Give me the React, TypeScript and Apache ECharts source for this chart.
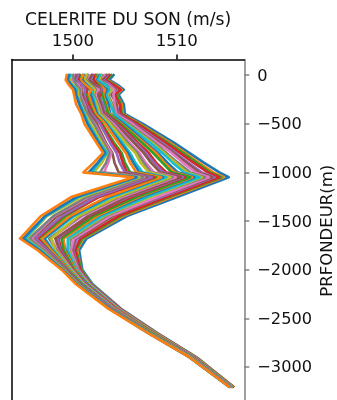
import React, { useEffect, useRef } from "react";
import * as echarts from "echarts";

// Depths (m) shared by every profile
const DEPTHS = [0, -50, -100, -150, -200, -300, -400, -500, -700, -800, -900, -1000, -1050, -1250, -1450, -1680, -1800, -2000, -2150, -2400, -2650, -2900, -3200];

// Sound-speed profiles (m/s), from the coldest to the warmest
const P00 = [1499.4, 1499.3, 1499.6, 1500.0, 1500.1, 1500.3, 1500.8, 1501.1, 1502.3, 1502.9, 1502.0, 1501.0, 1505.8, 1499.9, 1496.9, 1494.9, 1496.6, 1498.9, 1500.3, 1503.4, 1507.2, 1511.2, 1515.0];
const P01 = [1499.6, 1499.5, 1499.8, 1500.2, 1500.3, 1500.6, 1501.0, 1501.4, 1502.5, 1503.1, 1502.4, 1501.5, 1506.1, 1500.4, 1497.3, 1495.2, 1496.8, 1499.0, 1500.4, 1503.5, 1507.2, 1511.2, 1515.0];
const P02 = [1499.8, 1499.5, 1499.9, 1500.4, 1500.3, 1500.7, 1501.1, 1501.5, 1502.6, 1503.3, 1502.5, 1501.8, 1506.2, 1500.6, 1497.4, 1495.4, 1496.9, 1499.0, 1500.4, 1503.5, 1507.3, 1511.2, 1515.0];
const P03 = [1499.8, 1499.7, 1500.0, 1500.5, 1500.5, 1500.7, 1501.2, 1501.7, 1502.8, 1503.3, 1502.8, 1502.0, 1506.4, 1500.9, 1497.5, 1495.5, 1497.0, 1499.1, 1500.5, 1503.5, 1507.3, 1511.3, 1515.0];
const P04 = [1500.0, 1500.1, 1500.3, 1500.7, 1500.6, 1501.0, 1501.4, 1502.0, 1503.0, 1503.5, 1503.2, 1502.6, 1506.8, 1501.4, 1498.1, 1495.8, 1497.2, 1499.2, 1500.5, 1503.6, 1507.3, 1511.3, 1515.1];
const P05 = [1500.1, 1499.9, 1500.5, 1500.8, 1500.7, 1501.1, 1501.4, 1502.1, 1503.1, 1503.7, 1503.4, 1503.0, 1506.9, 1501.6, 1498.2, 1496.0, 1497.3, 1499.2, 1500.5, 1503.6, 1507.3, 1511.3, 1515.1];
const P06 = [1500.3, 1500.1, 1500.5, 1500.9, 1500.9, 1501.2, 1501.6, 1502.3, 1503.2, 1503.8, 1504.0, 1504.4, 1507.1, 1501.8, 1498.5, 1496.1, 1497.4, 1499.3, 1500.6, 1503.6, 1507.4, 1511.3, 1515.1];
const P07 = [1500.5, 1500.3, 1500.9, 1501.2, 1501.1, 1501.3, 1501.8, 1502.6, 1503.6, 1504.2, 1504.5, 1505.0, 1507.6, 1502.3, 1498.9, 1496.4, 1497.6, 1499.4, 1500.7, 1503.7, 1507.4, 1511.4, 1515.1];
const P08 = [1500.6, 1500.5, 1500.8, 1501.4, 1501.1, 1501.5, 1501.9, 1502.7, 1503.8, 1504.5, 1504.8, 1505.2, 1507.8, 1502.6, 1499.0, 1496.6, 1497.6, 1499.4, 1500.7, 1503.7, 1507.4, 1511.4, 1515.1];
const P09 = [1500.7, 1500.5, 1500.9, 1501.4, 1501.3, 1501.6, 1502.0, 1502.8, 1504.0, 1504.7, 1505.0, 1505.5, 1508.0, 1502.5, 1499.3, 1496.7, 1497.7, 1499.5, 1500.8, 1503.7, 1507.5, 1511.4, 1515.1];
const P10 = [1501.0, 1500.7, 1501.2, 1501.8, 1501.5, 1501.8, 1502.2, 1503.1, 1504.4, 1505.1, 1505.5, 1506.1, 1508.5, 1503.3, 1499.7, 1497.0, 1497.9, 1499.6, 1500.8, 1503.8, 1507.5, 1511.4, 1515.1];
const P11 = [1501.0, 1500.9, 1501.3, 1501.7, 1501.7, 1502.0, 1502.3, 1503.2, 1504.6, 1505.3, 1505.8, 1506.4, 1508.7, 1503.5, 1499.9, 1497.2, 1498.0, 1499.6, 1500.9, 1503.8, 1507.5, 1511.4, 1515.1];
const P12 = [1501.1, 1500.7, 1501.4, 1501.9, 1501.9, 1502.1, 1502.4, 1503.3, 1504.8, 1505.5, 1506.0, 1506.7, 1509.0, 1503.8, 1500.1, 1497.3, 1498.1, 1499.7, 1500.9, 1503.9, 1507.5, 1511.5, 1515.2];
const P13 = [1501.3, 1501.1, 1501.6, 1502.1, 1501.9, 1502.3, 1502.6, 1503.6, 1505.1, 1506.0, 1506.5, 1507.3, 1509.4, 1504.3, 1500.5, 1497.9, 1498.3, 1499.8, 1501.0, 1503.9, 1507.6, 1511.5, 1515.2];
const P14 = [1501.4, 1501.2, 1501.8, 1502.2, 1502.0, 1502.4, 1502.7, 1503.7, 1505.3, 1506.2, 1506.8, 1507.5, 1509.6, 1504.5, 1500.7, 1497.7, 1498.4, 1499.8, 1501.0, 1503.9, 1507.6, 1511.5, 1515.2];
const P15 = [1501.5, 1501.3, 1501.6, 1502.5, 1502.1, 1502.5, 1502.8, 1503.9, 1505.5, 1506.4, 1507.0, 1507.8, 1509.9, 1504.8, 1500.9, 1497.9, 1498.5, 1499.9, 1501.1, 1504.0, 1507.6, 1511.5, 1515.2];
const P16 = [1501.8, 1501.5, 1502.1, 1502.6, 1502.4, 1502.7, 1503.0, 1504.1, 1505.9, 1506.8, 1507.5, 1508.4, 1510.4, 1505.2, 1501.5, 1498.3, 1498.7, 1500.0, 1501.1, 1504.0, 1507.7, 1511.6, 1515.2];
const P17 = [1501.9, 1501.7, 1502.1, 1502.8, 1502.4, 1502.9, 1503.1, 1504.2, 1506.1, 1507.0, 1507.8, 1508.7, 1510.6, 1505.4, 1501.4, 1498.5, 1498.8, 1500.0, 1501.2, 1504.0, 1507.7, 1511.6, 1515.2];
const P18 = [1502.0, 1502.0, 1502.3, 1502.8, 1502.6, 1502.7, 1503.2, 1504.4, 1506.3, 1507.3, 1508.0, 1509.0, 1510.8, 1505.7, 1501.6, 1498.6, 1498.9, 1500.0, 1501.2, 1504.1, 1507.7, 1511.6, 1515.2];
const P19 = [1502.2, 1501.9, 1502.5, 1502.8, 1502.8, 1503.1, 1503.4, 1504.6, 1506.7, 1507.7, 1508.6, 1509.5, 1511.3, 1506.2, 1502.0, 1498.9, 1499.1, 1500.1, 1501.3, 1504.1, 1507.7, 1511.6, 1515.2];
const P20 = [1502.3, 1502.0, 1502.6, 1503.1, 1502.9, 1503.2, 1503.5, 1504.7, 1506.9, 1508.0, 1508.8, 1509.8, 1511.5, 1506.4, 1502.3, 1499.1, 1499.2, 1500.2, 1501.3, 1504.2, 1507.8, 1511.7, 1515.3];
const P21 = [1502.4, 1502.1, 1502.7, 1503.3, 1503.0, 1503.4, 1503.6, 1504.9, 1507.1, 1508.2, 1509.1, 1510.1, 1511.7, 1506.7, 1502.4, 1499.0, 1499.3, 1500.2, 1501.4, 1504.2, 1507.8, 1511.7, 1515.3];
const P22 = [1502.6, 1502.3, 1503.2, 1503.5, 1503.2, 1503.6, 1504.0, 1505.1, 1507.5, 1508.6, 1509.6, 1510.7, 1512.2, 1507.2, 1502.8, 1499.5, 1499.5, 1500.3, 1501.4, 1504.3, 1507.8, 1511.7, 1515.3];
const P23 = [1502.7, 1502.5, 1503.0, 1503.7, 1503.3, 1503.7, 1503.9, 1505.2, 1507.7, 1508.8, 1509.9, 1511.0, 1512.4, 1507.5, 1503.0, 1499.6, 1499.6, 1500.3, 1501.5, 1504.3, 1507.9, 1511.7, 1515.3];
const P24 = [1502.8, 1502.5, 1503.2, 1503.7, 1503.4, 1503.8, 1504.0, 1505.4, 1507.9, 1509.0, 1510.1, 1511.3, 1512.7, 1507.4, 1503.2, 1499.8, 1499.6, 1500.4, 1501.5, 1504.3, 1507.9, 1511.7, 1515.3];
const P25 = [1503.0, 1502.5, 1503.4, 1504.0, 1503.9, 1504.0, 1504.2, 1505.7, 1508.2, 1509.5, 1510.6, 1511.8, 1513.1, 1508.2, 1503.6, 1500.1, 1499.8, 1500.5, 1501.6, 1504.4, 1507.9, 1511.8, 1515.3];
const P26 = [1503.2, 1502.8, 1503.4, 1504.1, 1503.7, 1504.2, 1504.3, 1505.8, 1508.4, 1509.7, 1510.9, 1512.1, 1513.4, 1508.3, 1503.9, 1500.2, 1499.9, 1500.6, 1501.6, 1504.4, 1508.0, 1511.8, 1515.3];
const P27 = [1503.3, 1502.9, 1503.6, 1504.2, 1503.8, 1504.2, 1504.4, 1505.9, 1508.6, 1509.9, 1511.1, 1512.4, 1513.6, 1508.6, 1503.7, 1500.4, 1500.0, 1500.6, 1501.7, 1504.4, 1508.0, 1511.8, 1515.3];
const P28 = [1503.5, 1503.1, 1503.9, 1504.6, 1504.0, 1504.5, 1504.6, 1506.2, 1509.0, 1510.3, 1511.6, 1513.0, 1514.1, 1509.1, 1504.4, 1500.7, 1500.2, 1500.7, 1501.7, 1504.5, 1508.0, 1511.8, 1515.4];
const P29 = [1503.7, 1503.2, 1504.0, 1504.5, 1504.2, 1504.6, 1504.7, 1506.3, 1509.2, 1510.6, 1511.9, 1513.2, 1514.3, 1509.3, 1504.6, 1500.9, 1500.3, 1500.8, 1501.8, 1504.5, 1508.0, 1511.9, 1515.4];
const P30 = [1503.5, 1503.3, 1504.1, 1504.7, 1504.2, 1504.7, 1504.8, 1506.4, 1509.4, 1510.8, 1512.1, 1513.5, 1514.5, 1509.6, 1504.8, 1501.0, 1500.4, 1500.8, 1501.8, 1504.5, 1508.0, 1511.9, 1515.4];
const P31 = [1503.9, 1503.5, 1504.3, 1504.9, 1504.4, 1504.9, 1505.0, 1506.7, 1509.8, 1511.2, 1512.6, 1514.1, 1515.0, 1510.1, 1505.2, 1501.3, 1500.6, 1500.9, 1501.9, 1504.6, 1508.1, 1511.9, 1515.4];

const PROFILES = [P00, P01, P02, P03, P04, P05, P06, P07, P08, P09, P10, P11, P12, P13, P14, P15, P16, P17, P18, P19, P20, P21, P22, P23, P24, P25, P26, P27, P28, P29, P30, P31];

const X_TICKS = [1500, 1510];
const Y_TICKS = [0, -500, -1000, -1500, -2000, -2500, -3000];

const X_TITLE = "CELERITE DU SON (m/s)";
const Y_TITLE = "PRFONDEUR(m)";

const COLORS = ["#1f77b4", "#ff7f0e", "#2ca02c", "#d62728", "#9467bd", "#8c564b", "#e377c2", "#7f7f7f", "#bcbd22", "#17becf"];

const FONT = "DejaVu Sans";
const fmtMinus = (v: number) => (v < 0 ? "\u2212" + Math.abs(v) : String(v));
const fmtPlain = (v: number) => String(v);

export default function App() {
  const ref = useRef<HTMLDivElement | null>(null);
  useEffect(() => {
    if (!ref.current) return;
    const chart = echarts.init(ref.current, null, { renderer: "svg" });
    // draw warmest first so that the coldest ends on top
    const order = PROFILES.map((_, j) => PROFILES.length - 1 - j);
    const series = order.map((j, s) => ({
      type: "line",
      data: PROFILES[j].map((v, i) => [v, DEPTHS[i]]),
      showSymbol: false,
      symbol: "none",
      silent: true,
      clip: true,
      lineStyle: { color: COLORS[s % 10], width: 2.6, cap: "square", join: "round" },
    }));
    chart.setOption({
      animation: false,
      grid: { left: 12, top: 59.5, width: 232.3, height: 342.5, containLabel: false, outerBoundsMode: "none" },
      xAxis: {
        type: "value",
        position: "top",
        min: 1494.13,
        max: 1516.5,
        name: X_TITLE,
        nameLocation: "middle",
        nameGap: 32,
        nameMoveOverlap: false,
        nameTextStyle: { fontSize: 17.2, color: "#111", fontFamily: FONT },
        axisLine: { show: true, onZero: false, lineStyle: { color: "#000", width: 1.5 } },
        axisTick: { show: true, length: 5, customValues: X_TICKS, lineStyle: { color: "#000", width: 1.5 } },
        axisLabel: { customValues: X_TICKS, formatter: fmtPlain, fontSize: 16.6, color: "#111", fontFamily: FONT, margin: 11 },
        splitLine: { show: false },
      },
      yAxis: [
        {
          type: "value",
          position: "right",
          min: -3360,
          max: 160,
          name: Y_TITLE,
          nameLocation: "middle",
          nameGap: 74,
          nameMoveOverlap: false,
          nameTextStyle: { fontSize: 16.5, color: "#111", fontFamily: FONT },
          axisLine: { show: true, onZero: false, lineStyle: { color: "#808080", width: 1.5 } },
          axisTick: { show: true, length: 5, customValues: Y_TICKS, lineStyle: { color: "#808080", width: 1.5 } },
          axisLabel: { customValues: Y_TICKS, formatter: fmtMinus, fontSize: 16.2, color: "#111", fontFamily: FONT, margin: 13 },
          splitLine: { show: false },
        },
        {
          type: "value",
          position: "left",
          min: -3360,
          max: 160,
          axisLine: { show: true, onZero: false, lineStyle: { color: "#000", width: 1.5 } },
          axisTick: { show: false },
          axisLabel: { show: false },
          splitLine: { show: false },
        },
      ],
      series,
    });
    return () => chart.dispose();
  }, []);
  return <div ref={ref} style={{ position: "fixed", left: 0, top: 0, width: 337, height: 400 }} />;
}
